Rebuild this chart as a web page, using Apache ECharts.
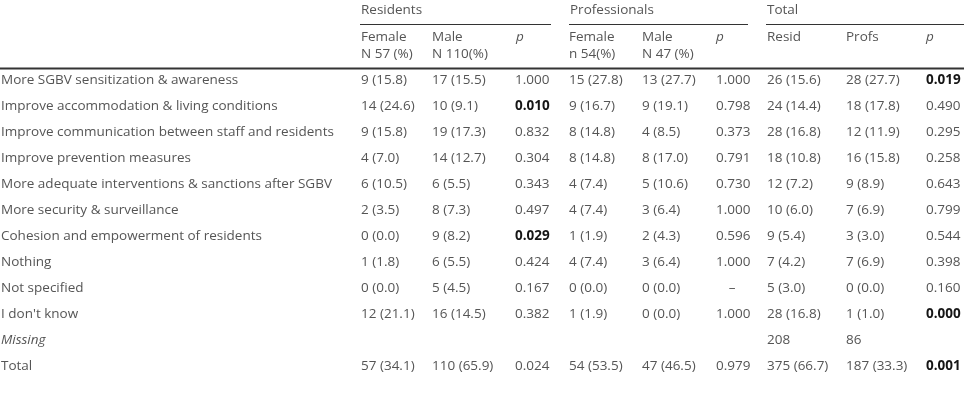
<!DOCTYPE html>
<html><head><meta charset="utf-8">
<script src="https://cdn.jsdelivr.net/npm/echarts@6/dist/echarts.min.js"></script>
<style>html,body{margin:0;padding:0;background:#fff}#c{width:969px;height:404px}</style>
</head><body><div id="c"></div>
<script>
// ---- data ----
var rowLabels = ['More SGBV sensitization & awareness','Improve accommodation & living conditions','Improve communication between staff and residents','Improve prevention measures','More adequate interventions & sanctions after SGBV','More security & surveillance','Cohesion and empowerment of residents','Nothing','Not specified',"I don't know",'Missing','Total'];
var resFemale = ['9 (15.8)','14 (24.6)','9 (15.8)','4 (7.0)','6 (10.5)','2 (3.5)','0 (0.0)','1 (1.8)','0 (0.0)','12 (21.1)','','57 (34.1)'];
var resMale = ['17 (15.5)','10 (9.1)','19 (17.3)','14 (12.7)','6 (5.5)','8 (7.3)','9 (8.2)','6 (5.5)','5 (4.5)','16 (14.5)','','110 (65.9)'];
var resP = ['1.000','0.010','0.832','0.304','0.343','0.497','0.029','0.424','0.167','0.382','','0.024'];
var profFemale = ['15 (27.8)','9 (16.7)','8 (14.8)','8 (14.8)','4 (7.4)','4 (7.4)','1 (1.9)','4 (7.4)','0 (0.0)','1 (1.9)','','54 (53.5)'];
var profMale = ['13 (27.7)','9 (19.1)','4 (8.5)','8 (17.0)','5 (10.6)','3 (6.4)','2 (4.3)','3 (6.4)','0 (0.0)','0 (0.0)','','47 (46.5)'];
var profP = ['1.000','0.798','0.373','0.791','0.730','1.000','0.596','1.000','\u2013','1.000','','0.979'];
var totResid = ['26 (15.6)','24 (14.4)','28 (16.8)','18 (10.8)','12 (7.2)','10 (6.0)','9 (5.4)','7 (4.2)','5 (3.0)','28 (16.8)','208','375 (66.7)'];
var totProfs = ['28 (27.7)','18 (17.8)','12 (11.9)','16 (15.8)','9 (8.9)','7 (6.9)','3 (3.0)','7 (6.9)','0 (0.0)','1 (1.0)','86','187 (33.3)'];
var totP = ['0.019','0.490','0.295','0.258','0.643','0.799','0.544','0.398','0.160','0.000','','0.001'];
var boldCells = ['resP:0.010','resP:0.029','totP:0.019','totP:0.000','totP:0.001'];
var groupHeaders = ['Residents','Professionals','Total'];
var subHeaders1 = ['Female','Male','p','Female','Male','p','Resid','Profs','p'];
var subHeaders2 = ['N 57 (%)','N 110(%)','','n 54(%)','N 47 (%)','','','',''];

// ---- layout (pixels) ----
var columns = [
  {key:'label', arr:rowLabels, x:1},
  {key:'resFemale', arr:resFemale, x:361},
  {key:'resMale', arr:resMale, x:432},
  {key:'resP', arr:resP, x:515},
  {key:'profFemale', arr:profFemale, x:569},
  {key:'profMale', arr:profMale, x:642},
  {key:'profP', arr:profP, x:716, dashCenter:true},
  {key:'totResid', arr:totResid, x:767},
  {key:'totProfs', arr:totProfs, x:846},
  {key:'totP', arr:totP, x:926}
];
var FONT = '"Open Sans", "Noto Sans", sans-serif';
var FS = 13.5;
var COLOR = '#555555';
var DARK = '#151515';

var cells = [];
columns.forEach(function(c, ci){
  c.arr.forEach(function(t, ri){
    if (t === '') return;
    var bold = boldCells.indexOf(c.key + ':' + t) >= 0;
    var italic = (c.key === 'label' && t === 'Missing');
    cells.push([c.x, ri, t, bold ? 1 : 0, italic ? 1 : 0, (c.dashCenter && t === '\u2013') ? 1 : 0]);
  });
});

var graphics = [];
var groupX = [[360,551],[569,748],[766,964]];
groupHeaders.forEach(function(h, i){
  graphics.push({type:'text', x:groupX[i][0]+1, y:10, style:{text:h, font: FS+'px '+FONT, fill:COLOR, textVerticalAlign:'middle'}});
  graphics.push({type:'line', shape:{x1:groupX[i][0], y1:24.5, x2:groupX[i][1], y2:24.5}, style:{stroke:'#333', lineWidth:1}});
});
var subX = [361,432,516,569,642,716,767,846,926];
subHeaders1.forEach(function(h, i){
  var it = h === 'p';
  graphics.push({type:'text', x:subX[i], y:37, style:{text:h, font:(it?'italic ':'')+FS+'px '+FONT, fill:COLOR, textVerticalAlign:'middle'}});
  if (subHeaders2[i]) graphics.push({type:'text', x:subX[i], y:54, style:{text:subHeaders2[i], font: FS+'px '+FONT, fill:COLOR, textVerticalAlign:'middle'}});
});
graphics.push({type:'line', shape:{x1:0, y1:68.5, x2:964, y2:68.5}, style:{stroke:'#333', lineWidth:2}});

var chart = echarts.init(document.getElementById('c'), null, {renderer:'canvas'});
chart.setOption({
  animation:false,
  backgroundColor:'#fff',
  grid:{left:0, right:0, top:67, height:312},
  xAxis:{type:'value', min:0, max:969, show:false},
  yAxis:{type:'category', data:rowLabels, inverse:true, show:false},
  graphic: graphics,
  series:[{
    type:'custom',
    coordinateSystem:'cartesian2d',
    encode:{x:0, y:1},
    data: cells,
    renderItem:function(params, api){
      var p = api.coord([api.value(0), api.value(1)]);
      var bold = api.value(3) === 1, italic = api.value(4) === 1, center = api.value(5) === 1;
      var txt = cells[params.dataIndex][2];
      return {
        type:'text',
        x: center ? p[0] + 16 : p[0],
        y: p[1],
        style:{
          text: txt,
          font: (italic?'italic ':'') + (bold?'bold ':'') + FS + 'px ' + FONT,
          fill: bold ? DARK : COLOR,
          textAlign: center ? 'center' : 'left',
          textVerticalAlign:'middle'
        }
      };
    }
  }]
});
</script>
</body></html>
